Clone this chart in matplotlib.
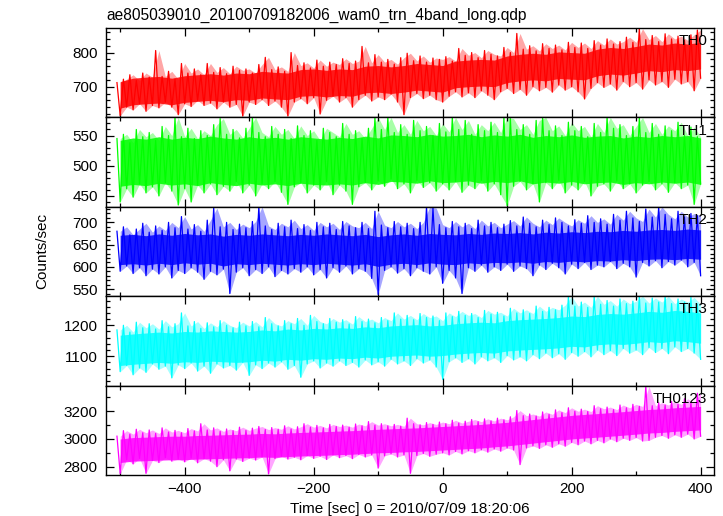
import numpy as np
import matplotlib
matplotlib.use("Agg")
import matplotlib.pyplot as plt
from matplotlib.ticker import MultipleLocator

plt.rcParams['font.family'] = ['Liberation Sans', 'DejaVu Sans']

# 10-s windows starting at -505 s; for each window the high and low
# excursions
t_start = np.arange(-505, 400, 10)

th0_hi = [712, 722, 735, 718, 740, 728, 806, 730, 745, 722, 768, 740, 752, 735, 768, 742, 756, 738, 760, 748,
          752, 740, 765, 786, 750, 758, 745, 800, 762, 770, 755, 778, 760, 772, 765, 782, 768, 775, 818, 770,
          794, 772, 780, 766, 785, 798, 776, 790, 772, 784, 780, 788, 775, 812, 792, 800, 785, 806, 795, 790,
          815, 800, 856, 810, 820, 805, 826, 812, 822, 808, 830, 815, 828, 812, 835, 822, 840, 825, 832, 845,
          830, 870, 838, 850, 832, 855, 840, 848, 836, 852, 866]
th0_lo = [615, 640, 632, 650, 628, 645, 638, 655, 640, 618, 650, 642, 660, 645, 652, 635, 655, 640, 648, 614,
          655, 648, 662, 645, 658, 640, 614, 655, 665, 650, 668, 620, 660, 672, 655, 668, 640, 662, 675, 658,
          670, 662, 678, 655, 618, 668, 680, 665, 675, 662, 655, 672, 685, 670, 682, 668, 688, 675, 662, 685,
          695, 680, 692, 675, 700, 688, 698, 684, 705, 690, 700, 685, 664, 695, 712, 698, 708, 690, 715, 700,
          712, 693, 720, 705, 715, 698, 722, 708, 715, 688, 725]

th1_hi = [545, 552, 538, 560, 548, 555, 542, 565, 550, 580, 548, 562, 545, 558, 550, 568, 578, 552, 560, 546,
          562, 580, 555, 548, 565, 552, 560, 545, 566, 550, 558, 542, 562, 555, 548, 570, 552, 558, 545, 562,
          580, 560, 580, 555, 568, 552, 575, 558, 565, 550, 570, 556, 580, 560, 575, 552, 568, 558, 572, 555,
          580, 578, 560, 568, 552, 575, 580, 558, 566, 550, 572, 558, 565, 548, 570, 555, 580, 562, 568, 550,
          565, 580, 555, 570, 552, 566, 558, 572, 550, 564, 548]
th1_lo = [440, 462, 448, 470, 455, 465, 450, 472, 458, 435, 462, 440, 468, 455, 470, 452, 466, 458, 474, 455,
          468, 450, 470, 462, 474, 456, 436, 465, 472, 455, 468, 460, 474, 452, 468, 458, 436, 465, 472, 460,
          475, 466, 478, 462, 470, 455, 476, 464, 472, 458, 470, 460, 474, 456, 468, 462, 476, 458, 470, 452,
          434, 466, 474, 460, 470, 440, 472, 462, 476, 455, 468, 460, 474, 450, 466, 470, 458, 475, 462, 470,
          455, 468, 474, 460, 470, 456, 472, 462, 468, 436, 470]

th2_hi = [680, 690, 672, 685, 698, 678, 692, 682, 700, 688, 713, 685, 695, 680, 705, 732, 690, 700, 684, 696,
          688, 702, 735, 692, 684, 698, 690, 705, 686, 695, 682, 700, 690, 698, 684, 702, 692, 688, 700, 686,
          725, 694, 688, 702, 690, 698, 686, 700, 735, 732, 695, 688, 702, 690, 698, 686, 705, 692, 700, 688,
          696, 704, 692, 712, 698, 690, 705, 695, 710, 700, 692, 706, 698, 715, 700, 708, 696, 718, 705, 725,
          710, 702, 730, 712, 735, 718, 708, 725, 712, 720, 715]
th2_lo = [590, 602, 585, 598, 580, 595, 584, 600, 575, 592, 585, 598, 588, 572, 590, 582, 595, 540, 588, 598,
          580, 594, 585, 600, 578, 592, 584, 596, 588, 600, 582, 594, 575, 598, 588, 602, 584, 596, 590, 574,
          538, 592, 600, 586, 596, 580, 598, 590, 584, 600, 563, 592, 575, 540, 598, 590, 604, 588, 600, 592,
          606, 590, 602, 596, 580, 604, 594, 608, 598, 584, 606, 596, 610, 594, 604, 600, 612, 596, 608, 600,
          577, 610, 602, 614, 598, 612, 604, 615, 600, 610, 580]

th3_hi = [1185, 1200, 1178, 1210, 1192, 1205, 1188, 1215, 1195, 1205, 1240, 1198, 1212, 1190, 1208, 1195, 1215,
          1200, 1192, 1210, 1198, 1212, 1195, 1225, 1205, 1198, 1215, 1205, 1222, 1200, 1232, 1212, 1205, 1222,
          1210, 1218, 1204, 1228, 1212, 1220, 1208, 1225, 1215, 1240, 1220, 1232, 1218, 1238, 1225, 1230, 1215,
          1240, 1228, 1245, 1232, 1238, 1225, 1248, 1236, 1242, 1230, 1255, 1240, 1250, 1238, 1262, 1245, 1258,
          1250, 1265, 1294, 1262, 1275, 1258, 1294, 1268, 1280, 1262, 1285, 1270, 1278, 1294, 1272, 1288, 1275,
          1294, 1270, 1285, 1275, 1290, 1268]
th3_lo = [1050, 1070, 1040, 1062, 1048, 1075, 1058, 1068, 1030, 1072, 1060, 1078, 1052, 1068, 1045, 1075, 1062,
          1070, 1055, 1080, 1038, 1072, 1060, 1078, 1065, 1082, 1058, 1070, 1032, 1075, 1085, 1062, 1078, 1068,
          1085, 1070, 1080, 1065, 1088, 1072, 1082, 1068, 1090, 1075, 1085, 1070, 1092, 1078, 1088, 1065, 1025,
          1082, 1095, 1080, 1092, 1075, 1098, 1085, 1095, 1080, 1102, 1088, 1098, 1085, 1105, 1092, 1110, 1095,
          1108, 1090, 1112, 1100, 1115, 1098, 1120, 1105, 1118, 1102, 1125, 1110, 1120, 1105, 1128, 1112, 1125,
          1108, 1130, 1115, 1125, 1110, 1090]

th0123_hi = [3020, 3060, 3035, 3070, 3045, 3065, 3040, 3080, 3050, 3062, 3045, 3075, 3058, 3110, 3065, 3080, 3055,
             3072, 3060, 3085, 3062, 3078, 3090, 3068, 3082, 3070, 3095, 3072, 3088, 3110, 3085, 3098, 3080, 3105,
             3090, 3100, 3085, 3108, 3095, 3125, 3100, 3110, 3095, 3105, 3092, 3150, 3110, 3102, 3118, 3105, 3122,
             3110, 3135, 3115, 3128, 3140, 3125, 3145, 3130, 3150, 3138, 3160, 3205, 3168, 3180, 3165, 3195, 3178,
             3210, 3190, 3225, 3200, 3215, 3198, 3240, 3218, 3230, 3212, 3245, 3225, 3250, 3235, 3380, 3240, 3262,
             3245, 3270, 3250, 3290, 3260, 3330]
th0123_lo = [2750, 2850, 2820, 2860, 2752, 2845, 2830, 2865, 2840, 2855, 2835, 2862, 2828, 2858, 2840, 2800, 2850,
             2770, 2855, 2838, 2862, 2848, 2870, 2748, 2858, 2875, 2855, 2868, 2850, 2880, 2860, 2875, 2852, 2885,
             2865, 2880, 2858, 2888, 2870, 2885, 2790, 2878, 2892, 2870, 2885, 2752, 2880, 2895, 2875, 2890, 2900,
             2885, 2910, 2892, 2915, 2900, 2922, 2905, 2928, 2912, 2935, 2920, 2815, 2935, 2950, 2932, 2958, 2940,
             2965, 2948, 2975, 2958, 2985, 2965, 2990, 2972, 3000, 2980, 3005, 2990, 3010, 2985, 2990, 3012, 3025,
             3005, 3030, 3012, 3035, 3000, 3020]

# dense core of each curve (where most bins sit), read every 20 s
t_core = np.arange(-500, 401, 20)

th0_core_hi = [715, 725, 728, 730, 725, 732, 735, 738, 734, 740, 738, 745, 742, 740, 750, 752, 748, 752, 750, 760,
               762, 758, 762, 768, 765, 762, 775, 778, 780, 778, 790, 795, 798, 795, 802, 800, 798, 810, 815, 812,
               818, 825, 822, 828, 825, 830]
th0_core_lo = [637, 647, 650, 652, 647, 654, 657, 660, 656, 662, 660, 667, 664, 662, 672, 674, 670, 674, 672, 682,
               684, 680, 684, 690, 687, 684, 697, 700, 702, 700, 712, 717, 720, 717, 724, 722, 720, 732, 737, 734,
               740, 747, 744, 750, 747, 752]
th1_core_hi = [542, 546, 544, 548, 544, 547, 545, 549, 546, 544, 548, 545, 547, 544, 548, 546, 544, 547, 545, 549,
               546, 551, 550, 548, 552, 549, 550, 552, 548, 551, 549, 552, 547, 550, 548, 551, 547, 549, 550, 546,
               549, 547, 550, 548, 550, 546]
th1_core_lo = [466, 469, 467, 471, 468, 470, 467, 472, 469, 467, 471, 468, 470, 467, 471, 469, 468, 470, 468, 472,
               469, 474, 473, 471, 475, 472, 473, 475, 471, 474, 472, 475, 470, 473, 471, 474, 470, 472, 473, 469,
               472, 470, 473, 471, 473, 469]
th2_core_hi = [671, 673, 670, 674, 671, 675, 672, 674, 669, 673, 671, 674, 672, 670, 673, 671, 674, 672, 670, 673,
               668, 672, 674, 671, 675, 673, 672, 675, 673, 676, 675, 677, 674, 678, 676, 679, 677, 680, 679, 682,
               680, 683, 684, 682, 685, 683]
th2_core_lo = [605, 607, 604, 608, 605, 609, 606, 608, 602, 607, 605, 608, 606, 604, 607, 605, 608, 606, 604, 607,
               601, 606, 608, 605, 609, 606, 605, 609, 607, 610, 609, 611, 608, 612, 610, 613, 611, 614, 613, 616,
               614, 617, 618, 616, 619, 617]
th3_core_hi = [1168, 1172, 1175, 1178, 1175, 1180, 1178, 1182, 1180, 1178, 1180, 1185, 1182, 1188, 1185, 1190, 1188,
               1192, 1190, 1195, 1192, 1198, 1200, 1202, 1198, 1200, 1205, 1208, 1210, 1208, 1215, 1218, 1220, 1222,
               1225, 1230, 1228, 1235, 1238, 1236, 1240, 1245, 1242, 1248, 1245, 1240]
th3_core_lo = [1070, 1074, 1077, 1080, 1077, 1082, 1080, 1084, 1082, 1080, 1082, 1087, 1084, 1090, 1087, 1092, 1090,
               1094, 1092, 1097, 1094, 1100, 1102, 1104, 1100, 1102, 1107, 1110, 1112, 1110, 1117, 1120, 1122, 1124,
               1127, 1132, 1130, 1137, 1140, 1138, 1142, 1147, 1144, 1150, 1147, 1142]
th0123_core_hi = [3000, 3010, 3013, 3017, 3020, 3020, 3025, 3027, 3030, 3033, 3035, 3040, 3037, 3043, 3047, 3050,
                  3053, 3057, 3060, 3065, 3070, 3073, 3077, 3080, 3085, 3090, 3095, 3100, 3105, 3113, 3120, 3130,
                  3140, 3150, 3160, 3170, 3177, 3183, 3190, 3197, 3205, 3213, 3217, 3225, 3230, 3235]
th0123_core_lo = [2830, 2840, 2843, 2847, 2850, 2850, 2855, 2857, 2860, 2863, 2865, 2870, 2867, 2873, 2877, 2880,
                  2883, 2887, 2890, 2895, 2900, 2903, 2907, 2910, 2915, 2920, 2925, 2930, 2935, 2943, 2950, 2960,
                  2970, 2980, 2990, 3000, 3007, 3013, 3020, 3027, 3035, 3043, 3047, 3055, 3060, 3065]

bands = ['TH0', 'TH1', 'TH2', 'TH3', 'TH0123']
colors = ['#ff0000', '#00ff00', '#0000ff', '#00ffff', '#ff00ff']
series = [(th0_hi, th0_lo, th0_core_hi, th0_core_lo),
          (th1_hi, th1_lo, th1_core_hi, th1_core_lo),
          (th2_hi, th2_lo, th2_core_hi, th2_core_lo),
          (th3_hi, th3_lo, th3_core_hi, th3_core_lo),
          (th0123_hi, th0123_lo, th0123_core_hi, th0123_core_lo)]
ylims = [(610, 872), (432, 580), (534, 735), (1005, 1294), (2740, 3385)]
ymajor = [100, 50, 50, 100, 200]
yminor = [20, 10, 10, 20, 100]

fig = plt.figure(figsize=(7.23, 5.16), dpi=100)

left, width = 106 / 723, 607.5 / 723
top_px, bot_px = 28, 475
h_px = (bot_px - top_px) / 5

for i in range(5):
    y0 = 1 - (top_px + (i + 1) * h_px) / 516
    ax = fig.add_axes([left, y0, width, h_px / 516])
    hi, lo, chi, clo = series[i]
    # interleave: high at window start, low half way through the window
    tt = np.empty(2 * len(t_start))
    yy = np.empty(2 * len(t_start))
    tt[0::2] = t_start
    tt[1::2] = t_start + 5
    yy[0::2] = hi
    yy[1::2] = lo
    ax.fill_between(t_start + 5, lo, hi, color=colors[i], alpha=0.35, lw=0)
    ax.fill_between(t_core, clo, chi, color=colors[i], alpha=0.85, lw=0)
    ax.plot(tt, yy, color=colors[i], lw=0.9)

    ax.set_xlim(-522, 420)
    ax.set_ylim(*ylims[i])
    ax.xaxis.set_major_locator(MultipleLocator(200))
    ax.xaxis.set_minor_locator(MultipleLocator(100))
    ax.yaxis.set_major_locator(MultipleLocator(ymajor[i]))
    ax.yaxis.set_minor_locator(MultipleLocator(yminor[i]))
    ax.tick_params(which='both', direction='in', top=True, right=True, labelsize=11, width=0.9)
    ax.tick_params(which='major', length=6)
    ax.tick_params(which='minor', length=3)
    ax.tick_params(axis='y', pad=6)
    ax.tick_params(axis='x', pad=5)
    for s in ax.spines.values():
        s.set_linewidth(1.0)
    if i < 4:
        ax.tick_params(labelbottom=False)
    ax.text(0.99, 0.93, bands[i], transform=ax.transAxes, ha='right', va='top', fontsize=11)
    if i == 0:
        ax.set_title('ae805039010_20100709182006_wam0_trn_4band_long.qdp', loc='left', fontsize=11.2, pad=6)
    if i == 4:
        ax.set_xlabel('Time [sec] 0 = 2010/07/09 18:20:06', fontsize=11, labelpad=4)

fig.text(42 / 723, 1 - 251 / 516, 'Counts/sec', rotation=90, ha='center', va='center', fontsize=11)

fig.savefig('out.png', dpi=100)
